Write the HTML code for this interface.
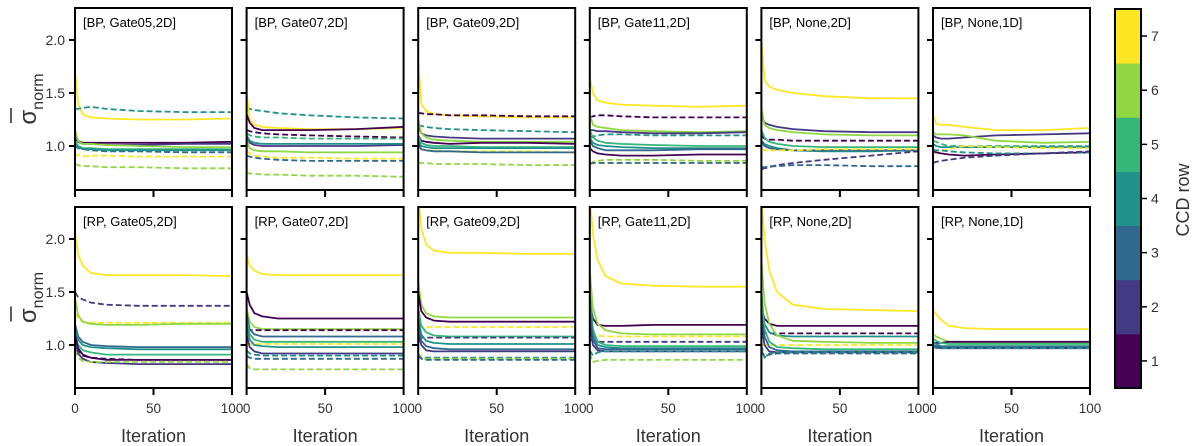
<!DOCTYPE html>
<html><head><meta charset="utf-8">
<style>
html,body{margin:0;padding:0;background:#fff;}
svg{display:block;font-family:"Liberation Sans","DejaVu Sans",sans-serif;}
</style></head>
<body>
<svg id="chart" width="1200" height="446" viewBox="0 0 1200 446" xmlns="http://www.w3.org/2000/svg"></svg>
<script>
const C = ['#440154','#443983','#31688e','#21918c','#35b779','#90d743','#fde725'];
const xSamples = [0,2,5,10,20,40,70,100];
const xTicks = [0,50,100];
const yTicks = [1.0,1.5,2.0];
const yTickLabels = ['1.0','1.5','2.0'];
const cbTicks = [1,2,3,4,5,6,7];
const panelTitles = [
 '[BP, Gate05,2D]','[BP, Gate07,2D]','[BP, Gate09,2D]','[BP, Gate11,2D]','[BP, None,2D]','[BP, None,1D]',
 '[RP, Gate05,2D]','[RP, Gate07,2D]','[RP, Gate09,2D]','[RP, Gate11,2D]','[RP, None,2D]','[RP, None,1D]'];
// each series: [colorIndex, dashed(1/0), values at xSamples]
const bpGate05 = [
 [6,0,[1.7,1.4,1.3,1.27,1.26,1.25,1.25,1.26]],
 [3,1,[1.35,1.35,1.36,1.37,1.35,1.33,1.32,1.32]],
 [0,0,[1.1,1.05,1.03,1.03,1.03,1.03,1.03,1.04]],
 [1,0,[1.08,1.04,1.02,1.02,1.01,1.01,1.02,1.02]],
 [5,0,[1.15,1.05,1.02,1.02,1.01,1.0,0.99,0.99]],
 [4,0,[1.05,1.0,0.98,0.98,0.97,0.97,0.97,0.97]],
 [2,1,[1.0,0.98,0.97,0.96,0.95,0.95,0.94,0.94]],
 [3,0,[1.02,0.99,0.97,0.97,0.96,0.96,0.96,0.96]],
 [6,1,[0.9,0.92,0.9,0.91,0.91,0.9,0.9,0.9]],
 [5,1,[0.83,0.82,0.81,0.81,0.8,0.8,0.79,0.79]]];
const bpGate07 = [
 [3,1,[1.37,1.35,1.34,1.33,1.31,1.29,1.27,1.26]],
 [6,0,[1.5,1.25,1.2,1.18,1.17,1.16,1.16,1.17]],
 [0,0,[1.3,1.22,1.17,1.15,1.15,1.15,1.16,1.18]],
 [0,1,[1.15,1.14,1.13,1.12,1.11,1.1,1.09,1.08]],
 [4,1,[1.12,1.1,1.09,1.08,1.08,1.07,1.07,1.07]],
 [1,0,[1.1,1.03,1.01,1.0,1.0,1.0,1.0,1.01]],
 [3,0,[1.1,1.05,1.03,1.02,1.02,1.02,1.02,1.02]],
 [5,0,[1.05,0.98,0.96,0.95,0.95,0.94,0.94,0.94]],
 [6,1,[0.95,0.93,0.91,0.9,0.89,0.89,0.88,0.88]],
 [2,1,[0.91,0.9,0.89,0.88,0.87,0.86,0.86,0.86]],
 [5,1,[0.75,0.74,0.74,0.73,0.73,0.72,0.72,0.71]]];
const bpGate09 = [
 [6,0,[1.8,1.4,1.33,1.3,1.29,1.28,1.27,1.27]],
 [0,1,[1.31,1.31,1.3,1.3,1.29,1.29,1.28,1.28]],
 [3,1,[1.2,1.19,1.18,1.17,1.16,1.15,1.14,1.13]],
 [1,0,[1.2,1.12,1.1,1.09,1.08,1.07,1.07,1.07]],
 [5,0,[1.25,1.12,1.08,1.06,1.05,1.04,1.04,1.04]],
 [0,0,[1.1,1.05,1.04,1.03,1.02,1.03,1.03,1.02]],
 [4,0,[1.1,1.03,1.01,1.0,1.0,0.99,0.99,0.99]],
 [3,0,[1.05,1.0,0.99,0.98,0.98,0.98,0.98,0.98]],
 [6,1,[0.98,0.97,0.96,0.96,0.95,0.95,0.95,0.94]],
 [2,0,[1.02,0.97,0.96,0.95,0.95,0.94,0.94,0.94]],
 [5,1,[0.84,0.84,0.84,0.83,0.83,0.83,0.82,0.82]]];
const bpGate11 = [
 [6,0,[1.65,1.5,1.43,1.41,1.39,1.38,1.37,1.38]],
 [0,1,[1.27,1.28,1.29,1.29,1.28,1.27,1.27,1.27]],
 [5,0,[1.3,1.2,1.18,1.17,1.15,1.14,1.13,1.14]],
 [1,0,[1.15,1.15,1.14,1.14,1.13,1.12,1.12,1.13]],
 [3,1,[1.08,1.09,1.1,1.11,1.11,1.1,1.1,1.1]],
 [4,0,[1.15,1.08,1.05,1.03,1.02,1.01,1.0,1.0]],
 [3,0,[1.08,1.03,1.01,1.0,0.99,0.98,0.98,0.98]],
 [2,0,[1.05,1.0,0.98,0.96,0.96,0.96,0.97,0.97]],
 [0,0,[0.98,0.95,0.93,0.92,0.91,0.91,0.92,0.92]],
 [5,1,[0.83,0.85,0.86,0.87,0.87,0.87,0.86,0.86]],
 [6,1,[0.85,0.84,0.84,0.84,0.84,0.84,0.84,0.84]],
 [2,1,[0.83,0.84,0.84,0.84,0.84,0.84,0.84,0.84]]];
const bpNone2D = [
 [6,0,[2.0,1.62,1.56,1.53,1.5,1.47,1.45,1.45]],
 [1,0,[1.3,1.22,1.2,1.18,1.16,1.14,1.13,1.13]],
 [5,0,[1.35,1.2,1.17,1.15,1.13,1.11,1.1,1.1]],
 [0,1,[1.1,1.07,1.06,1.06,1.05,1.05,1.05,1.05]],
 [4,0,[1.15,1.08,1.04,1.02,1.0,0.99,0.99,0.99]],
 [3,0,[1.05,1.02,1.0,0.98,0.96,0.95,0.95,0.96]],
 [2,0,[1.05,1.0,0.98,0.97,0.96,0.96,0.96,0.96]],
 [6,1,[0.97,0.96,0.96,0.96,0.96,0.97,0.97,0.97]],
 [1,1,[0.78,0.79,0.8,0.82,0.84,0.87,0.91,0.95]],
 [2,1,[0.8,0.8,0.81,0.81,0.82,0.82,0.81,0.81]]];
const bpNone1D = [
 [6,0,[1.3,1.21,1.2,1.2,1.18,1.15,1.15,1.17]],
 [1,0,[1.1,1.08,1.07,1.07,1.08,1.1,1.11,1.12]],
 [5,0,[1.13,1.11,1.11,1.11,1.1,1.05,1.03,1.04]],
 [4,1,[1.05,1.04,1.02,1.0,1.0,1.0,1.0,1.0]],
 [3,0,[1.02,1.0,0.99,0.99,0.99,0.99,0.99,0.99]],
 [6,1,[0.93,0.94,0.95,0.97,1.0,0.99,0.98,0.98]],
 [0,0,[0.95,0.94,0.93,0.92,0.91,0.92,0.93,0.94]],
 [3,1,[0.97,0.96,0.96,0.95,0.94,0.93,0.93,0.94]],
 [1,1,[0.84,0.85,0.86,0.87,0.89,0.91,0.93,0.95]]];
const rpGate05 = [
 [6,0,[2.05,1.85,1.75,1.68,1.66,1.66,1.66,1.65]],
 [1,1,[1.5,1.45,1.43,1.4,1.38,1.37,1.37,1.37]],
 [6,1,[1.3,1.25,1.22,1.21,1.21,1.21,1.21,1.21]],
 [5,0,[1.45,1.28,1.22,1.2,1.19,1.19,1.2,1.2]],
 [2,0,[1.2,1.08,1.03,1.0,0.99,0.98,0.98,0.98]],
 [3,0,[1.15,1.05,1.0,0.98,0.97,0.96,0.96,0.96]],
 [4,0,[1.1,1.0,0.95,0.93,0.91,0.91,0.91,0.91]],
 [0,1,[1.05,0.95,0.9,0.88,0.87,0.86,0.86,0.86]],
 [0,0,[1.1,0.97,0.91,0.88,0.86,0.86,0.86,0.86]],
 [1,0,[1.02,0.92,0.87,0.84,0.83,0.82,0.82,0.82]],
 [5,1,[0.95,0.88,0.85,0.84,0.84,0.84,0.84,0.84]]];
const rpGate07 = [
 [6,0,[1.85,1.75,1.7,1.67,1.66,1.66,1.66,1.66]],
 [0,0,[1.5,1.38,1.3,1.27,1.25,1.25,1.25,1.25]],
 [5,0,[1.35,1.22,1.17,1.15,1.15,1.15,1.15,1.15]],
 [0,1,[1.14,1.14,1.14,1.14,1.14,1.14,1.14,1.14]],
 [2,0,[1.3,1.15,1.1,1.08,1.08,1.08,1.08,1.08]],
 [4,0,[1.25,1.1,1.05,1.03,1.03,1.03,1.03,1.03]],
 [6,1,[1.01,1.01,1.01,1.01,1.01,1.01,1.01,1.01]],
 [3,0,[1.2,1.05,1.0,0.99,0.98,0.98,0.98,0.98]],
 [1,0,[1.1,0.98,0.94,0.92,0.92,0.92,0.92,0.92]],
 [3,1,[0.95,0.92,0.91,0.9,0.9,0.9,0.9,0.9]],
 [2,1,[0.9,0.88,0.87,0.87,0.87,0.87,0.87,0.87]],
 [5,1,[0.82,0.78,0.77,0.77,0.77,0.77,0.77,0.77]]];
const rpGate09 = [
 [6,0,[2.4,2.1,1.95,1.89,1.87,1.87,1.86,1.86]],
 [5,0,[1.6,1.38,1.3,1.27,1.26,1.26,1.26,1.26]],
 [0,0,[1.5,1.32,1.26,1.23,1.22,1.22,1.22,1.22]],
 [6,1,[1.2,1.18,1.17,1.17,1.17,1.17,1.17,1.17]],
 [4,0,[1.35,1.18,1.12,1.09,1.08,1.08,1.08,1.08]],
 [1,1,[1.07,1.07,1.07,1.07,1.07,1.07,1.07,1.07]],
 [3,0,[1.25,1.1,1.04,1.02,1.01,1.01,1.01,1.01]],
 [2,0,[1.2,1.04,0.99,0.97,0.96,0.96,0.96,0.96]],
 [1,0,[1.1,1.0,0.95,0.94,0.94,0.94,0.94,0.94]],
 [3,1,[0.92,0.88,0.88,0.88,0.88,0.88,0.88,0.88]],
 [5,1,[0.92,0.87,0.87,0.87,0.87,0.87,0.87,0.87]],
 [2,1,[0.9,0.87,0.86,0.86,0.86,0.86,0.86,0.86]]];
const rpGate11 = [
 [6,0,[2.4,2.05,1.8,1.65,1.58,1.56,1.55,1.55]],
 [0,0,[1.4,1.25,1.19,1.18,1.18,1.19,1.19,1.19]],
 [5,0,[1.7,1.35,1.2,1.14,1.11,1.1,1.1,1.1]],
 [6,1,[1.1,1.09,1.09,1.08,1.08,1.08,1.08,1.08]],
 [1,1,[1.05,1.04,1.03,1.03,1.03,1.03,1.03,1.03]],
 [4,0,[1.5,1.15,1.03,1.0,0.99,0.99,0.99,0.99]],
 [3,0,[1.4,1.1,1.0,0.98,0.97,0.97,0.97,0.97]],
 [2,0,[1.3,1.05,0.97,0.96,0.96,0.96,0.96,0.96]],
 [1,0,[1.2,1.0,0.95,0.94,0.94,0.94,0.94,0.94]],
 [3,1,[0.95,0.9,0.93,0.94,0.94,0.94,0.94,0.94]],
 [5,1,[0.92,0.84,0.85,0.86,0.86,0.86,0.86,0.86]]];
const rpNone2D = [
 [6,0,[2.4,2.0,1.7,1.5,1.38,1.34,1.33,1.32]],
 [0,0,[1.35,1.25,1.2,1.18,1.18,1.18,1.18,1.18]],
 [0,1,[1.12,1.11,1.11,1.11,1.11,1.11,1.11,1.11]],
 [3,0,[1.4,1.2,1.12,1.09,1.08,1.08,1.08,1.08]],
 [5,0,[1.8,1.4,1.2,1.09,1.04,1.03,1.02,1.02]],
 [6,1,[1.0,1.0,1.0,1.0,1.0,1.0,1.0,1.0]],
 [4,0,[1.5,1.15,1.03,0.98,0.97,0.96,0.96,0.96]],
 [2,0,[1.3,1.08,0.98,0.95,0.94,0.94,0.94,0.94]],
 [1,0,[1.2,1.0,0.94,0.93,0.93,0.93,0.93,0.93]],
 [3,1,[1.0,0.88,0.92,0.93,0.93,0.93,0.93,0.93]],
 [2,1,[0.95,0.89,0.91,0.92,0.92,0.92,0.92,0.92]]];
const rpNone1D = [
 [6,0,[1.33,1.29,1.24,1.18,1.16,1.15,1.15,1.15]],
 [5,0,[1.1,1.08,1.06,1.03,1.02,1.02,1.02,1.02]],
 [0,0,[1.02,1.02,1.02,1.03,1.03,1.03,1.03,1.03]],
 [4,0,[1.06,1.04,1.02,1.01,1.01,1.01,1.01,1.01]],
 [3,0,[1.03,1.01,0.99,0.99,0.99,0.99,0.99,0.99]],
 [2,0,[1.0,0.99,0.98,0.98,0.98,0.98,0.98,0.98]],
 [1,0,[0.99,0.98,0.97,0.97,0.97,0.97,0.97,0.97]],
 [3,1,[0.99,0.97,0.97,0.97,0.97,0.97,0.97,0.97]]];
const panelSeries = [bpGate05,bpGate07,bpGate09,bpGate11,bpNone2D,bpNone1D,rpGate05,rpGate07,rpGate09,rpGate11,rpNone2D,rpNone1D];

const NS='http://www.w3.org/2000/svg';
const svg=document.getElementById('chart');
function mk(tag,attrs,parent){const e=document.createElementNS(NS,tag);for(const k in attrs)e.setAttribute(k,attrs[k]);(parent||svg).appendChild(e);return e;}
const PW=157, X0=75, DX=171.6, ROWTOP=[8,207], PH=[182,181];
const YMAX=2.302, YPX=106;
function xScale(col,v){return X0+col*DX+v/100*PW;}
function yScale(row,v){return ROWTOP[row]+(YMAX-v)*YPX;}

for(let p=0;p<12;p++){
  const row=Math.floor(p/6), col=p%6;
  const left=X0+col*DX, top=ROWTOP[row], h=PH[row];
  const g=mk('g',{});
  
  
  const clipId='clip'+p;
  const cp=mk('clipPath',{id:clipId},g); mk('rect',{x:left,y:top,width:PW,height:h},cp);
  const lines=mk('g',{'clip-path':'url(#'+clipId+')'},g);
  panelSeries[p].forEach((s,i)=>{
    const pts=xSamples.map((xv,j)=>xScale(col,xv).toFixed(1)+','+yScale(row,s[2][j]).toFixed(1)).join(' ');
    const pl=mk('polyline',{points:pts,fill:'none',stroke:C[s[0]],'stroke-width':1.8,'stroke-linejoin':'round'},lines);
    if(s[1]) pl.setAttribute('stroke-dasharray','6,3');
    
    
  });
  const fr=mk('rect',{x:left,y:top,width:PW,height:h,fill:'none',stroke:'#000','stroke-width':2},g);
  
  
  const t=mk('text',{x:left+8,y:top+19,'font-size':13,fill:'#000'},g);
  t.textContent=panelTitles[p];
  
  
  yTicks.forEach((v,i)=>{
    const y=yScale(row,v);
    mk('line',{x1:left-6,x2:left,y1:y,y2:y,stroke:'#000','stroke-width':2},g);
    if(col===0){
      const tl=mk('text',{x:left-10,y:y+5,'font-size':14,'text-anchor':'end',fill:'#333'},g);
      tl.textContent=yTickLabels[i];
      
      
    }
  });
  xTicks.forEach(v=>{
    const x=xScale(col,v);
    mk('line',{x1:x,x2:x,y1:top+h,y2:top+h+7,stroke:'#000','stroke-width':2},g);
    if(row===1){
      const tl=mk('text',{x:x,y:413,'font-size':13.5,'text-anchor':'middle',fill:'#333'},g);
      tl.textContent=String(v);
      
      
    }
  });
  if(row===1){
    const xl=mk('text',{x:left+PW/2,y:442,'font-size':18,'text-anchor':'middle',fill:'#333'},g);
    xl.textContent='Iteration';
    
    
  }
  if(col===0){
    const yl=mk('text',{transform:'translate(36,'+(top+h/2)+') rotate(-90)','font-size':24,'text-anchor':'middle',fill:'#333'},g);
    yl.innerHTML='σ<tspan font-size="16" dy="7">norm</tspan>';
    
    
    const bar=mk('line',{x1:11,x2:11,y1:top+h/2+9,y2:top+h/2+24,stroke:'#333','stroke-width':1.6},g);
    
    
  }
}
// colorbar
const cb=mk('g',{});


const CBX=1115, CBW=26, CBT=9, CBB=388, bandH=(CBB-CBT)/7;
cbTicks.forEach((v,i)=>{
  const y=CBB-(i+1)*bandH;
  const r=mk('rect',{x:CBX,y:y,width:CBW,height:bandH+0.5,fill:C[i]},cb);
  
  
  const yc=y+bandH/2;
  mk('line',{x1:CBX+CBW,x2:CBX+CBW+6,y1:yc,y2:yc,stroke:'#000','stroke-width':1.5},cb);
  const tl=mk('text',{x:CBX+CBW+10,y:yc+5,'font-size':14,fill:'#333'},cb);
  tl.textContent=String(v);
  
  
});
mk('rect',{x:CBX,y:CBT,width:CBW,height:CBB-CBT,fill:'none',stroke:'#000','stroke-width':2},cb);
const cbl=mk('text',{transform:'translate(1189,200) rotate(-90)','font-size':18,'text-anchor':'middle',fill:'#333'},cb);
cbl.textContent='CCD row';


</script>
</body></html>
